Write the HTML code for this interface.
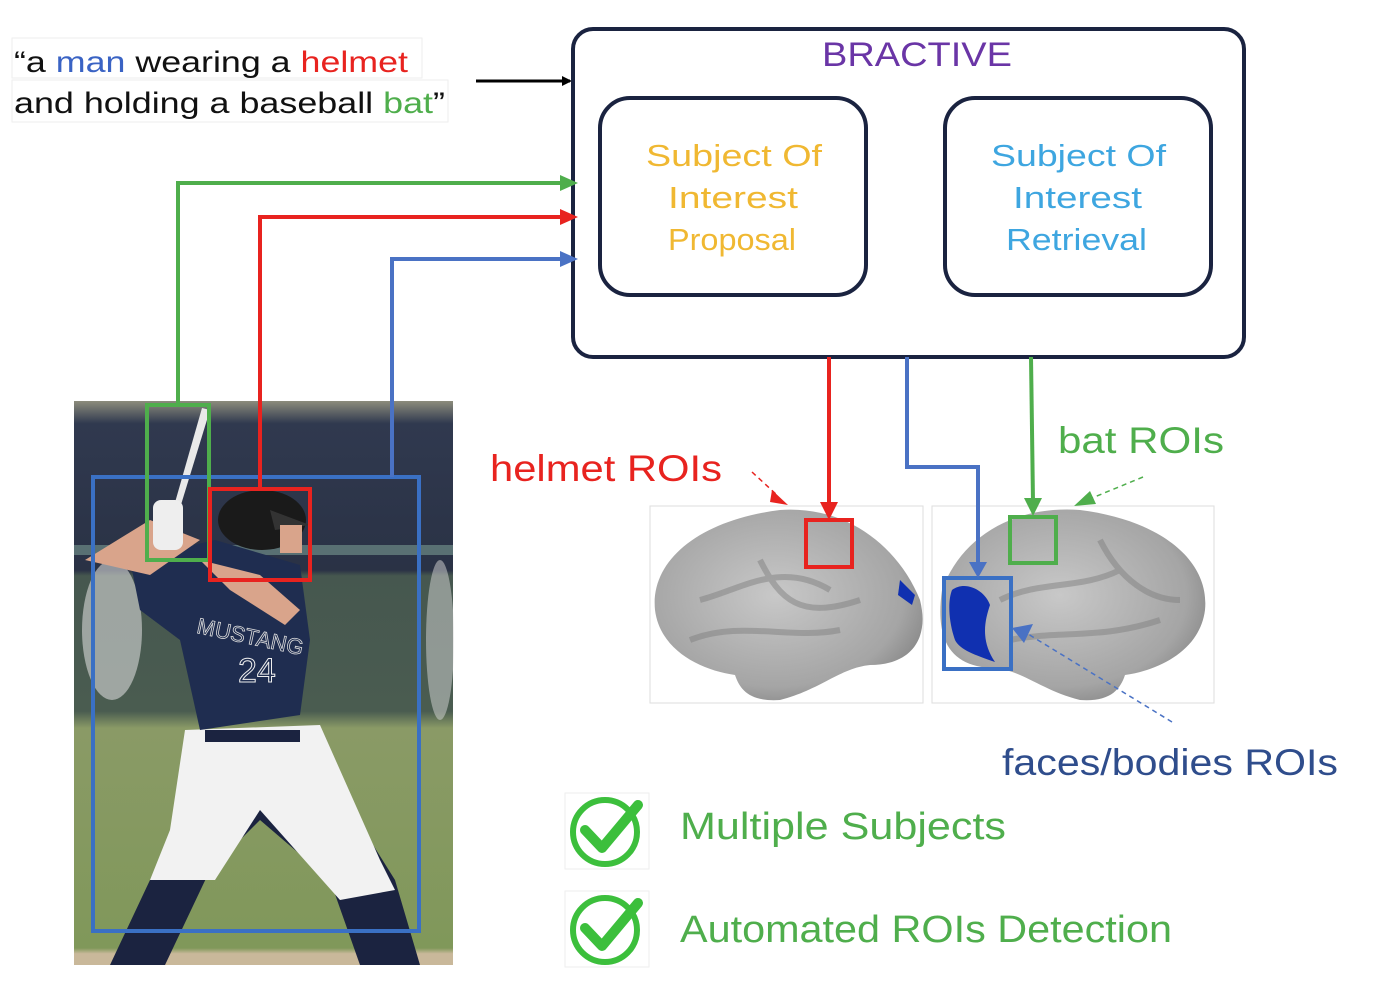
<!DOCTYPE html>
<html><head><meta charset="utf-8"><style>
html,body{margin:0;padding:0;background:#fff;}
svg{display:block;}
text{font-family:"Liberation Sans","DejaVu Sans",sans-serif;}
</style></head><body>
<svg width="1376" height="1004" viewBox="0 0 1376 1004" xmlns="http://www.w3.org/2000/svg">
<defs>
<marker id="aK" markerWidth="10" markerHeight="10" refX="8" refY="5" orient="auto" markerUnits="userSpaceOnUse"><path d="M0,0 L10,5 L0,10Z" fill="#000"/></marker>
<linearGradient id="bg" x1="0" y1="0" x2="0" y2="1">
<stop offset="0" stop-color="#8c8c7c"/><stop offset="0.04" stop-color="#30394f"/><stop offset="0.3" stop-color="#2a3245"/>
<stop offset="0.31" stop-color="#46574f"/><stop offset="0.55" stop-color="#4a5c50"/><stop offset="0.58" stop-color="#8a9a66"/>
<stop offset="0.97" stop-color="#80985a"/><stop offset="0.98" stop-color="#c9b89a"/><stop offset="1" stop-color="#c9b89a"/></linearGradient>
<radialGradient id="brain" cx="0.45" cy="0.45" r="0.6"><stop offset="0" stop-color="#c8c8c8"/><stop offset="0.8" stop-color="#a5a5a5"/><stop offset="1" stop-color="#8a8a8a"/></radialGradient>
</defs>

<!-- caption -->
<rect x="12" y="38" width="410" height="40" fill="#fff" stroke="#eee"/>
<rect x="12" y="80" width="436" height="42" fill="#fff" stroke="#eee"/>
<text x="14" y="72" font-size="30" fill="#111" textLength="394" lengthAdjust="spacingAndGlyphs">“a <tspan fill="#3a63c4">man</tspan> wearing a <tspan fill="#e8231f">helmet</tspan></text>
<text x="14" y="113" font-size="30" fill="#111" textLength="431" lengthAdjust="spacingAndGlyphs">and holding a baseball <tspan fill="#4fae4c">bat</tspan>”</text>
<line x1="476" y1="81" x2="570" y2="81" stroke="#000" stroke-width="3" marker-end="url(#aK)"/>

<!-- BRACTIVE -->
<rect x="573" y="29" width="671" height="328" rx="20" fill="#fff" stroke="#1a2340" stroke-width="4"/>
<text x="822" y="66" font-size="34" fill="#6a35a6" textLength="190" lengthAdjust="spacingAndGlyphs">BRACTIVE</text>
<rect x="600" y="98" width="266" height="197" rx="30" fill="#fff" stroke="#1a2340" stroke-width="4"/>
<g font-size="31" fill="#f0b832">
<text x="646" y="166" textLength="176" lengthAdjust="spacingAndGlyphs">Subject Of</text>
<text x="668" y="208" textLength="130" lengthAdjust="spacingAndGlyphs">Interest</text>
<text x="668" y="250" textLength="128" lengthAdjust="spacingAndGlyphs">Proposal</text>
</g>
<rect x="945" y="98" width="266" height="197" rx="30" fill="#fff" stroke="#1a2340" stroke-width="4"/>
<g font-size="31" fill="#3ea6e0">
<text x="991" y="166" textLength="175" lengthAdjust="spacingAndGlyphs">Subject Of</text>
<text x="1013" y="208" textLength="129" lengthAdjust="spacingAndGlyphs">Interest</text>
<text x="1006" y="250" textLength="141" lengthAdjust="spacingAndGlyphs">Retrieval</text>
</g>

<!-- photo -->
<rect x="74" y="401" width="379" height="564" fill="url(#bg)"/>
<rect x="74" y="545" width="379" height="10" fill="#6d8a86" opacity="0.7"/>
<ellipse cx="112" cy="630" rx="30" ry="70" fill="#d8d8d8" opacity="0.6"/>
<ellipse cx="440" cy="640" rx="14" ry="80" fill="#d8d8d8" opacity="0.5"/>
<path d="M190,780 L320,760 L395,880 L420,965 L360,965 L330,880 L260,820 L210,870 L165,965 L110,965 L150,880 L180,840Z" fill="#1b2340"/>
<path d="M185,730 L320,725 L380,860 L395,890 L340,900 L260,810 L215,880 L150,880 L170,830Z" fill="#f2f2f2"/>
<path d="M130,560 L215,540 L300,565 L310,640 L300,715 L200,730 L180,640 L140,610Z" fill="#1f2d50"/>
<path d="M85,560 L150,520 L200,540 L150,575Z" fill="#d9a48b"/>
<path d="M200,560 L260,575 L300,610 L285,625 L230,590Z" fill="#d9a48b"/>
<rect x="205" y="730" width="95" height="12" fill="#1b2340"/>
<text x="195" y="640" font-size="22" fill="#1f2d50" stroke="#ddd" stroke-width="0.8" transform="rotate(12 230 640)">MUSTANG</text>
<text x="238" y="682" font-size="34" fill="#1f2d50" stroke="#eee" stroke-width="1">24</text>
<ellipse cx="262" cy="520" rx="44" ry="30" fill="#1a1a1a"/>
<path d="M270,510 L310,525 L275,530Z" fill="#333"/>
<rect x="280" y="525" width="22" height="28" fill="#d9a48b"/>
<path d="M202,408 L210,410 L180,508 L174,506Z" fill="#e9e9e9"/>
<rect x="153" y="500" width="30" height="50" rx="8" fill="#eee"/>

<!-- bounding boxes & connectors -->
<rect x="93" y="477" width="326" height="454" fill="none" stroke="#3a70c4" stroke-width="4"/>
<rect x="147" y="405" width="62" height="155" fill="none" stroke="#4fae4c" stroke-width="4"/>
<rect x="210" y="489" width="100" height="91" fill="none" stroke="#e8231f" stroke-width="4"/>
<polyline points="178,405 178,183 562,183" fill="none" stroke="#4fae4c" stroke-width="4"/>
<path d="M560,175 L578,183 L560,191Z" fill="#4fae4c"/>
<polyline points="260,489 260,217 562,217" fill="none" stroke="#e8231f" stroke-width="4"/>
<path d="M560,209 L578,217 L560,225Z" fill="#e8231f"/>
<polyline points="392,477 392,259 562,259" fill="none" stroke="#4a72c4" stroke-width="4"/>
<path d="M560,251 L578,259 L560,267Z" fill="#4a72c4"/>

<!-- brains -->
<rect x="650" y="506" width="273" height="197" fill="#fff" stroke="#ddd"/>
<rect x="932" y="506" width="282" height="197" fill="#fff" stroke="#ddd"/>
<path d="M655,610 C650,560 700,520 780,510 C850,505 900,550 920,600 C930,640 910,665 870,665 C840,668 820,690 780,700 C750,702 740,690 735,675 C700,670 660,650 655,610Z" fill="url(#brain)"/>
<path d="M1205,610 C1210,560 1160,520 1080,510 C1010,505 960,540 942,590 C935,640 950,665 990,668 C1020,668 1040,690 1080,700 C1110,702 1120,690 1125,675 C1160,670 1200,650 1205,610Z" fill="url(#brain)"/>
<path d="M700,600 C740,590 780,560 830,590 M690,640 C740,620 790,640 840,630 M760,560 C780,600 800,620 860,600" stroke="#808080" stroke-width="6" fill="none" opacity="0.5"/>
<path d="M1000,600 C1040,580 1080,590 1120,570 M1010,640 C1060,630 1100,640 1160,620 M1100,540 C1120,580 1150,600 1180,600" stroke="#808080" stroke-width="6" fill="none" opacity="0.5"/>
<path d="M952,590 C965,580 985,590 990,605 C985,620 980,640 995,662 C975,655 960,650 955,640 C948,620 948,600 952,590Z" fill="#1030b0"/>
<path d="M900,580 L915,595 L912,605 L898,595Z" fill="#1030b0"/>
<rect x="806" y="520" width="46" height="47" fill="none" stroke="#e8231f" stroke-width="4"/>
<rect x="1010" y="517" width="46" height="46" fill="none" stroke="#4fae4c" stroke-width="4"/>
<rect x="944" y="578" width="67" height="91" fill="none" stroke="#3a70c4" stroke-width="4"/>

<line x1="829" y1="357" x2="829" y2="505" stroke="#e8231f" stroke-width="4"/>
<path d="M820,502 L829,520 L838,502Z" fill="#e8231f"/>
<line x1="1031" y1="357" x2="1033" y2="502" stroke="#4fae4c" stroke-width="4"/>
<path d="M1024,498 L1033,516 L1042,498Z" fill="#4fae4c"/>
<polyline points="907,357 907,467 978,467 978,565" fill="none" stroke="#4a72c4" stroke-width="4"/>
<path d="M969,562 L978,578 L987,562Z" fill="#4a72c4"/>

<line x1="752" y1="472" x2="778" y2="496" stroke="#e8231f" stroke-width="1.5" stroke-dasharray="5,4"/>
<path d="M772,490 L788,505 L770,502Z" fill="#e8231f"/>
<line x1="1143" y1="477" x2="1092" y2="498" stroke="#4fae4c" stroke-width="1.5" stroke-dasharray="5,4"/>
<path d="M1090,491 L1074,506 L1096,504Z" fill="#4fae4c"/>
<line x1="1172" y1="722" x2="1028" y2="634" stroke="#4a72c4" stroke-width="1.5" stroke-dasharray="5,4"/>
<path d="M1012,628 L1033,624 L1024,643Z" fill="#4a72c4"/>

<text x="490" y="481" font-size="37" fill="#e8231f" textLength="232" lengthAdjust="spacingAndGlyphs">helmet ROIs</text>
<text x="1058" y="453" font-size="37" fill="#4fae4c" textLength="166" lengthAdjust="spacingAndGlyphs">bat ROIs</text>
<text x="1002" y="775" font-size="37" fill="#2f4d8c" textLength="336" lengthAdjust="spacingAndGlyphs">faces/bodies ROIs</text>

<!-- checks -->
<rect x="565" y="793" width="84" height="76" fill="#fff" stroke="#eee"/>
<circle cx="605" cy="832" r="32" fill="none" stroke="#3cbf3c" stroke-width="6"/>
<path d="M585,830 L602,848 L638,805" fill="none" stroke="#3cbf3c" stroke-width="10" stroke-linecap="round" stroke-linejoin="round"/>
<rect x="565" y="891" width="84" height="76" fill="#fff" stroke="#eee"/>
<circle cx="605" cy="930" r="32" fill="none" stroke="#3cbf3c" stroke-width="6"/>
<path d="M585,928 L602,946 L638,903" fill="none" stroke="#3cbf3c" stroke-width="10" stroke-linecap="round" stroke-linejoin="round"/>
<text x="680" y="839" font-size="38" fill="#4fae4c" textLength="326" lengthAdjust="spacingAndGlyphs">Multiple Subjects</text>
<text x="680" y="942" font-size="38" fill="#4fae4c" textLength="492" lengthAdjust="spacingAndGlyphs">Automated ROIs Detection</text>
</svg>
</body></html>
